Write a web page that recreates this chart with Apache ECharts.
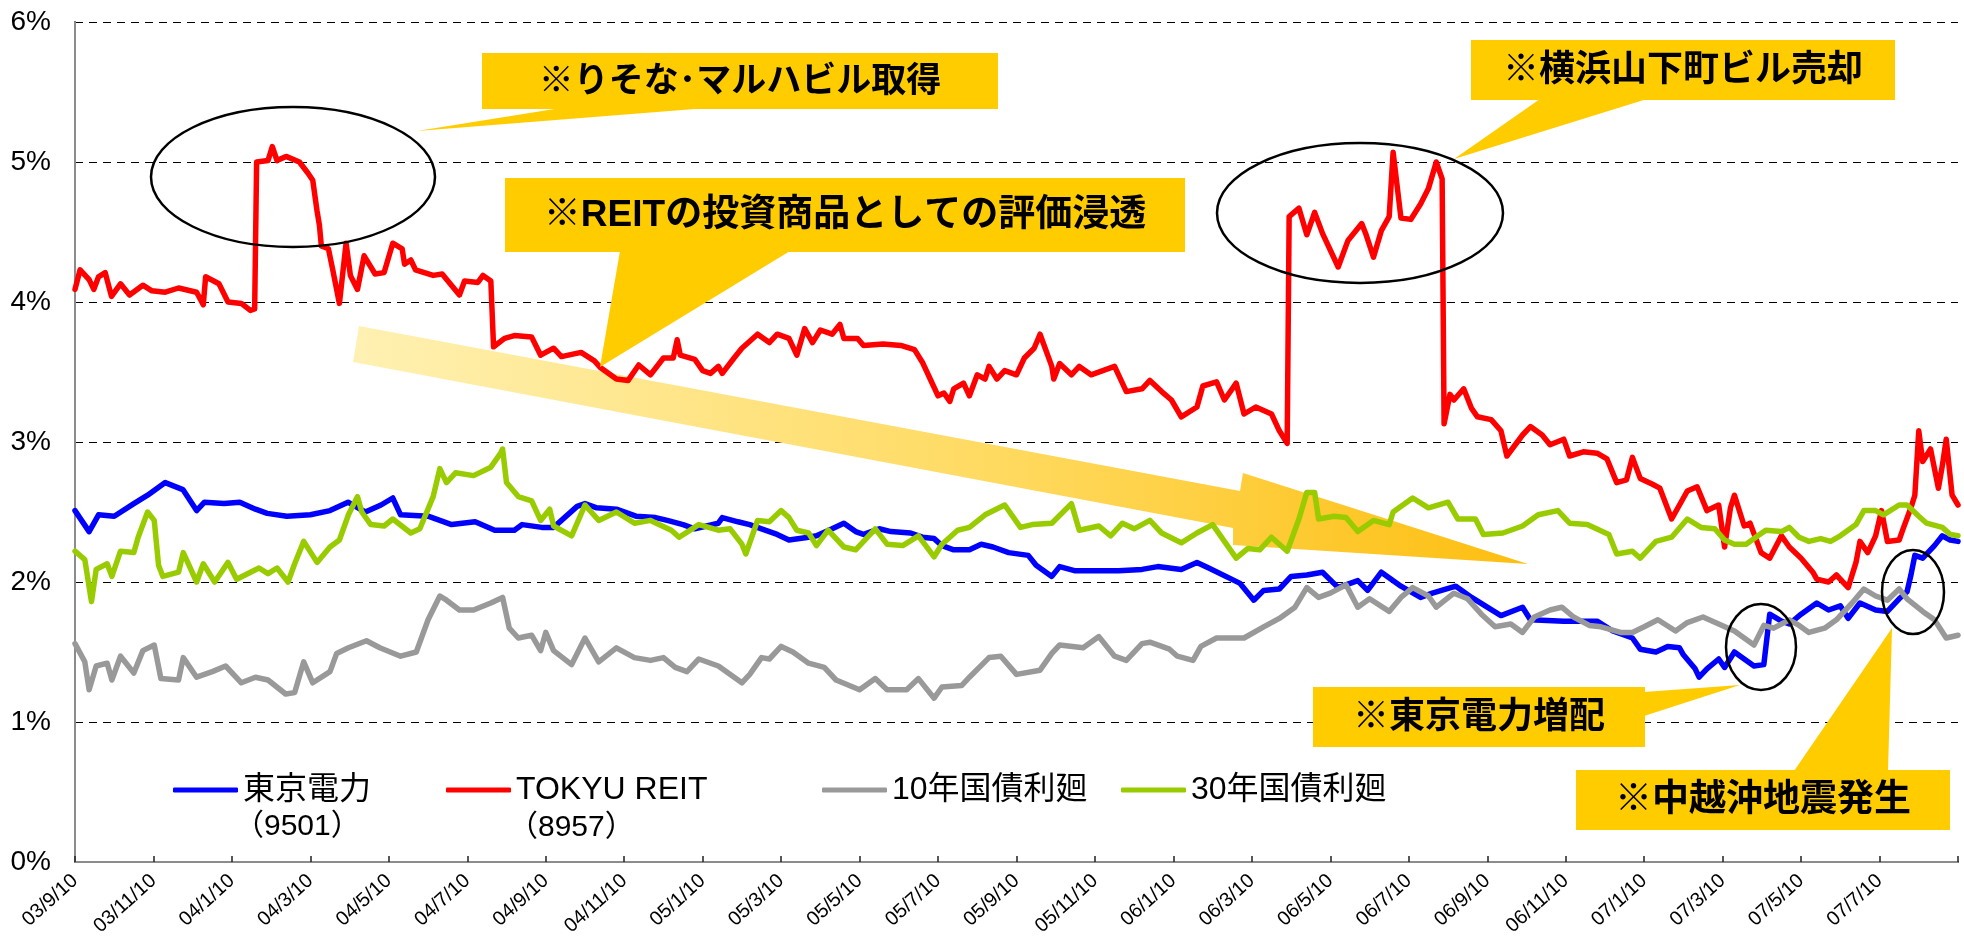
<!DOCTYPE html>
<html>
<head>
<meta charset="utf-8">
<script src="https://cdn.jsdelivr.net/npm/echarts@6/dist/echarts.min.js"></script>
<style>
  html, body { margin: 0; padding: 0; background: #fff; }
  #chart { width: 1964px; height: 949px; }
</style>
</head>
<body>
<div id="chart"></div>
<script>
// x values are months counted from 2003/9/10
const tickLabels = ['03/9/10', '03/11/10', '04/1/10', '04/3/10', '04/5/10', '04/7/10', '04/9/10', '04/11/10',
  '05/1/10', '05/3/10', '05/5/10', '05/7/10', '05/9/10', '05/11/10', '06/1/10', '06/3/10', '06/5/10',
  '06/7/10', '06/9/10', '06/11/10', '07/1/10', '07/3/10', '07/5/10', '07/7/10']

const seriesNames = ['東京電力', 'TOKYU REIT', '10年国債利廻', '30年国債利廻']

// 東京電力 (9501) dividend yield
const tepcoM = [0, 0.36, 0.6, 1, 1.5, 1.85, 2.3, 2.75, 3.1, 3.3, 3.8, 4.2, 4.6, 4.9, 5.4, 6, 6.5, 6.96, 7.4, 7.8, 8.1, 8.3,
  9, 9.6, 10.2, 10.7, 11.2, 11.4, 11.9, 12.2, 12.8, 13, 13.3, 13.8, 14.3, 14.8, 15.1, 15.5, 15.8, 16.4, 16.5, 16.9,
  17.2, 17.5, 17.9, 18.2, 18.7, 18.9, 19.3, 19.6, 19.9, 20.1, 20.5, 20.8, 21.3, 21.6, 21.9, 22.1, 22.4, 22.8, 23.1,
  23.4, 23.8, 24.3, 24.5, 24.9, 25.1, 25.5, 26.1, 26.6, 27.2, 27.6, 27.9, 28.2, 28.6, 28.9, 29.7, 30.05, 30.3, 30.7,
  31, 31.4, 31.8, 32.2, 32.7, 32.95, 33.3, 33.8, 34.3, 34.6, 35.2, 35.6, 36, 36.35, 36.9, 37.1, 37.95, 38.8, 39.2,
  39.7, 39.9, 40.3, 40.6, 40.9, 41, 41.3, 41.4, 41.6, 41.9, 42.05, 42.3, 42.55, 42.8, 43.05, 43.2, 43.5, 43.7, 44,
  44.4, 44.7, 45, 45.2, 45.5, 45.9, 46.2, 46.5, 46.7, 46.8, 46.9, 47.1, 47.4, 47.6, 47.8, 48]
const tepcoV = [2.51, 2.36, 2.48, 2.47, 2.56, 2.62, 2.71, 2.66, 2.51, 2.57, 2.56, 2.57, 2.52, 2.49, 2.47, 2.48, 2.51,
  2.57, 2.5, 2.55, 2.6, 2.48, 2.47, 2.41, 2.43, 2.37, 2.37, 2.41, 2.39, 2.39, 2.54, 2.56, 2.53, 2.52, 2.47, 2.46,
  2.44, 2.41, 2.38, 2.42, 2.46, 2.43, 2.41, 2.38, 2.34, 2.3, 2.32, 2.33, 2.38, 2.42, 2.36, 2.34, 2.38, 2.36, 2.35,
  2.32, 2.31, 2.26, 2.23, 2.23, 2.27, 2.25, 2.21, 2.19, 2.12, 2.04, 2.11, 2.08, 2.08, 2.08, 2.09, 2.11, 2.1, 2.09,
  2.14, 2.1, 1.99, 1.87, 1.94, 1.95, 2.04, 2.05, 2.07, 1.96, 2.01, 1.94, 2.07, 1.97, 1.89, 1.92, 1.97, 1.89, 1.82,
  1.76, 1.82, 1.73, 1.72, 1.72, 1.65, 1.6, 1.52, 1.5, 1.54, 1.53, 1.48, 1.38, 1.32, 1.38, 1.45, 1.39, 1.5, 1.45, 1.4,
  1.41, 1.77, 1.72, 1.7, 1.77, 1.85, 1.8, 1.83, 1.74, 1.85, 1.8, 1.79, 1.88, 1.93, 2.05, 2.19, 2.17, 2.26, 2.33, 2.3, 2.29]

// TOKYU REIT (8957) dividend yield
const reitM = [0, 0.13, 0.36, 0.48, 0.6, 0.77, 0.93, 1.16, 1.39, 1.73, 1.96, 2.3, 2.64, 3.1, 3.27, 3.33, 3.67, 3.9, 4.24,
  4.47, 4.58, 4.63, 4.92, 5.03, 5.15, 5.38, 5.72, 5.94, 6.06, 6.17, 6.23, 6.28, 6.46, 6.57, 6.74, 6.91, 7.02, 7.2,
  7.37, 7.65, 7.88, 8.1, 8.34, 8.4, 8.56, 8.68, 9.13, 9.36, 9.8, 9.93, 10.27, 10.4, 10.6, 10.67, 10.95, 11.2, 11.64,
  11.87, 12.2, 12.4, 12.9, 13.24, 13.4, 13.8, 14.1, 14.37, 14.67, 15, 15.25, 15.35, 15.43, 15.8, 16, 16.2, 16.4,
  16.5, 16.8, 17, 17.4, 17.7, 17.9, 18.2, 18.4, 18.6, 18.8, 19, 19.3, 19.5, 19.6, 19.95, 20.1, 20.6, 21.05, 21.4,
  21.6, 21.8, 22, 22.15, 22.3, 22.4, 22.65, 22.8, 23, 23.2, 23.3, 23.5, 23.7, 24, 24.2, 24.45, 24.6, 24.9, 24.95,
  25.1, 25.4, 25.6, 25.9, 26.2, 26.5, 26.8, 27.2, 27.4, 27.7, 27.95, 28.2, 28.6, 28.75, 29.1, 29.3, 29.6, 29.8,
  30.1, 30.5, 30.7, 30.9, 30.95, 31.2, 31.4, 31.6, 31.8, 32.2, 32.45, 32.8, 32.9, 33.1, 33.3, 33.5, 33.6, 33.8,
  34.05, 34.3, 34.5, 34.7, 34.85, 34.9, 35.05, 35.15, 35.4, 35.6, 35.75, 36.1, 36.35, 36.5, 36.9, 37.1, 37.4, 37.6,
  37.95, 38.1, 38.45, 38.8, 39.05, 39.3, 39.55, 39.7, 39.9, 40.2, 40.4, 40.7, 40.9, 41.1, 41.35, 41.6, 41.9, 42.05,
  42.2, 42.3, 42.55, 42.7, 42.98, 43.2, 43.5, 43.7, 44, 44.3, 44.4, 44.7, 44.9, 45.2, 45.4, 45.5, 45.7, 45.9, 46.05,
  46.2, 46.5, 46.6, 46.8, 46.9, 47, 47.1, 47.3, 47.5, 47.6, 47.7, 47.85, 48]
const reitV = [4.09, 4.23, 4.16, 4.09, 4.18, 4.21, 4.04, 4.13, 4.05, 4.12, 4.08, 4.07, 4.1, 4.07, 3.98, 4.18, 4.13, 4,
  3.99, 3.94, 3.95, 5, 5.01, 5.11, 5.01, 5.04, 5, 4.92, 4.87, 4.65, 4.55, 4.4, 4.38, 4.23, 3.99, 4.42, 4.19, 4.09,
  4.33, 4.2, 4.21, 4.42, 4.38, 4.27, 4.3, 4.23, 4.19, 4.2, 4.05, 4.15, 4.14, 4.19, 4.15, 3.68, 3.74, 3.76, 3.75, 3.62,
  3.67, 3.61, 3.64, 3.58, 3.53, 3.45, 3.44, 3.55, 3.48, 3.6, 3.6, 3.73, 3.62, 3.59, 3.51, 3.49, 3.54, 3.49, 3.6, 3.67,
  3.77, 3.71, 3.77, 3.74, 3.62, 3.81, 3.71, 3.8, 3.77, 3.84, 3.74, 3.74, 3.69, 3.7, 3.69, 3.66, 3.57, 3.45, 3.33,
  3.35, 3.29, 3.38, 3.42, 3.33, 3.48, 3.45, 3.54, 3.45, 3.51, 3.48, 3.6, 3.67, 3.77, 3.54, 3.45, 3.56, 3.48, 3.54,
  3.48, 3.51, 3.54, 3.36, 3.38, 3.44, 3.36, 3.3, 3.18, 3.25, 3.4, 3.43, 3.3, 3.42, 3.2, 3.25, 3.2, 3.08, 2.99, 4.61,
  4.67, 4.48, 4.64, 4.49, 4.25, 4.44, 4.56, 4.49, 4.32, 4.51, 4.61, 5.07, 4.6, 4.59, 4.7, 4.81, 5, 4.88, 3.13, 3.34,
  3.3, 3.38, 3.24, 3.18, 3.16, 3.08, 2.9, 3.05, 3.11, 3.05, 2.98, 3.02, 2.9, 2.93, 2.92, 2.88, 2.71, 2.73, 2.89, 2.74,
  2.7, 2.67, 2.45, 2.55, 2.65, 2.68, 2.51, 2.55, 2.25, 2.53, 2.62, 2.4, 2.42, 2.21, 2.17, 2.33, 2.25, 2.17, 2.07,
  2.02, 2, 2.05, 1.96, 2.14, 2.29, 2.21, 2.33, 2.51, 2.29, 2.3, 2.38, 2.53, 2.62, 3.08, 2.86, 2.95, 2.67, 2.83, 3.02,
  2.62, 2.55]

// 10年国債利廻
const jgb10M = [0, 0.25, 0.36, 0.54, 0.82, 0.94, 1.16, 1.5, 1.73, 2.02, 2.19, 2.64, 2.76, 3.1, 3.5, 3.84, 4.24, 4.6,
  4.92, 5.37, 5.6, 5.83, 6.06, 6.5, 6.67, 6.97, 7.43, 7.77, 8.3, 8.7, 9, 9.3, 9.47, 9.8, 10.16, 10.6, 10.9, 11.07,
  11.3, 11.64, 11.87, 12, 12.2, 12.66, 13, 13.35, 13.8, 14.26, 14.67, 15, 15.3, 15.6, 15.9, 16.4, 17, 17.2, 17.5,
  17.7, 18, 18.3, 18.7, 19.1, 19.4, 20, 20.4, 20.7, 21.2, 21.5, 21.9, 22.1, 22.6, 22.8, 23.3, 23.6, 24, 24.6, 24.9,
  25.1, 25.7, 26.1, 26.5, 26.8, 27.2, 27.4, 27.9, 28.1, 28.5, 28.7, 29.1, 29.8, 30.3, 30.7, 31.1, 31.4, 31.7, 32,
  32.4, 32.7, 33, 33.5, 33.8, 34.1, 34.5, 34.7, 35.15, 35.5, 35.85, 36.2, 36.6, 36.9, 37.2, 37.6, 37.9, 38.2, 38.6,
  38.9, 39.4, 39.7, 40, 40.35, 40.8, 41.1, 41.5, 41.9, 42.3, 42.55, 42.8, 43.05, 43.3, 43.7, 43.95, 44.2, 44.6,
  44.9, 45.3, 45.6, 45.9, 46.2, 46.5, 46.7, 47.1, 47.4, 47.7, 48]
const jgb10V = [1.56, 1.43, 1.23, 1.4, 1.42, 1.3, 1.47, 1.35, 1.51, 1.55, 1.31, 1.3, 1.46, 1.32, 1.36, 1.4, 1.28, 1.32,
  1.3, 1.2, 1.21, 1.43, 1.28, 1.36, 1.49, 1.53, 1.58, 1.53, 1.47, 1.5, 1.73, 1.9, 1.87, 1.8, 1.8, 1.85, 1.89, 1.67,
  1.6, 1.62, 1.51, 1.64, 1.51, 1.41, 1.6, 1.43, 1.53, 1.46, 1.44, 1.46, 1.39, 1.36, 1.45, 1.4, 1.28, 1.34, 1.46,
  1.45, 1.54, 1.5, 1.42, 1.39, 1.3, 1.23, 1.31, 1.23, 1.23, 1.31, 1.17, 1.25, 1.26, 1.32, 1.46, 1.47, 1.34, 1.37,
  1.49, 1.55, 1.53, 1.61, 1.47, 1.44, 1.56, 1.57, 1.52, 1.47, 1.44, 1.54, 1.6, 1.6, 1.68, 1.74, 1.82, 1.96, 1.89,
  1.92, 1.98, 1.82, 1.88, 1.79, 1.89, 1.96, 1.9, 1.82, 1.92, 1.88, 1.77, 1.68, 1.7, 1.64, 1.75, 1.8, 1.82, 1.75,
  1.69, 1.68, 1.64, 1.64, 1.68, 1.73, 1.65, 1.71, 1.75, 1.7, 1.65, 1.6, 1.55, 1.69, 1.67, 1.73, 1.69, 1.64, 1.67,
  1.73, 1.85, 1.95, 1.9, 1.87, 1.95, 1.88, 1.79, 1.73, 1.6, 1.62]

// 30年国債利廻
const jgb30M = [0, 0.25, 0.42, 0.54, 0.82, 0.94, 1.16, 1.5, 1.61, 1.85, 2.02, 2.13, 2.24, 2.64, 2.76, 3.1, 3.27, 3.56,
  3.9, 4.12, 4.69, 4.92, 5.15, 5.43, 5.6, 5.83, 6.17, 6.5, 6.74, 6.97, 7.2, 7.31, 7.54, 7.88, 8.1, 8.56, 8.79, 9.13,
  9.3, 9.47, 9.7, 10.16, 10.6, 10.85, 10.9, 11, 11.3, 11.64, 11.87, 12.1, 12.2, 12.66, 13, 13.35, 13.8, 14.26, 14.67,
  15.2, 15.4, 15.9, 16.4, 16.7, 17, 17.1, 17.4, 17.7, 18, 18.2, 18.4, 18.7, 18.9, 19.2, 19.6, 19.9, 20.4, 20.7, 21.1,
  21.5, 21.9, 22.1, 22.5, 22.8, 23.2, 23.7, 24.1, 24.4, 24.9, 25.4, 25.6, 26.1, 26.4, 26.7, 27, 27.4, 27.7, 28.2,
  28.6, 29, 29.6, 29.9, 30.2, 30.5, 30.9, 31.2, 31.4, 31.6, 31.7, 32.1, 32.4, 32.7, 33.1, 33.5, 33.6, 34.1, 34.5,
  35, 35.25, 35.7, 35.9, 36.4, 36.9, 37.3, 37.8, 38.1, 38.55, 39.1, 39.3, 39.7, 39.9, 40.3, 40.7, 41.1, 41.45, 41.8,
  42.05, 42.3, 42.6, 42.9, 43.1, 43.5, 43.7, 43.95, 44.2, 44.5, 44.75, 45, 45.4, 45.6, 45.9, 46.1, 46.5, 46.7, 47,
  47.2, 47.6, 47.8, 48]
const jgb30V = [2.22, 2.16, 1.86, 2.09, 2.13, 2.04, 2.22, 2.21, 2.32, 2.5, 2.44, 2.12, 2.04, 2.07, 2.21, 2, 2.13, 2,
  2.14, 2.02, 2.1, 2.06, 2.1, 2, 2.13, 2.29, 2.14, 2.25, 2.3, 2.48, 2.61, 2.5, 2.41, 2.4, 2.45, 2.35, 2.38, 2.61,
  2.81, 2.71, 2.78, 2.76, 2.82, 2.92, 2.95, 2.71, 2.61, 2.58, 2.44, 2.52, 2.4, 2.33, 2.55, 2.44, 2.5, 2.42, 2.44,
  2.37, 2.32, 2.41, 2.37, 2.38, 2.27, 2.2, 2.44, 2.43, 2.51, 2.46, 2.37, 2.35, 2.26, 2.37, 2.25, 2.23, 2.38, 2.27,
  2.26, 2.33, 2.18, 2.27, 2.37, 2.39, 2.48, 2.55, 2.39, 2.41, 2.42, 2.56, 2.37, 2.4, 2.33, 2.42, 2.38, 2.44, 2.35,
  2.28, 2.35, 2.41, 2.17, 2.24, 2.23, 2.32, 2.22, 2.45, 2.64, 2.64, 2.45, 2.47, 2.46, 2.36, 2.44, 2.41, 2.5, 2.6,
  2.53, 2.57, 2.45, 2.45, 2.34, 2.35, 2.4, 2.48, 2.51, 2.42, 2.41, 2.34, 2.2, 2.22, 2.17, 2.29, 2.32, 2.45, 2.39,
  2.38, 2.3, 2.27, 2.27, 2.33, 2.37, 2.36, 2.39, 2.32, 2.29, 2.31, 2.29, 2.33, 2.41, 2.51, 2.51, 2.48, 2.55, 2.55,
  2.47, 2.42, 2.39, 2.34, 2.33]

const colors = ['#0000FF', '#FF0000', '#999999', '#99CC00']

const latin = '"Liberation Sans", Arial, "Noto Sans CJK JP", sans-serif'
const cjk = '"Liberation Sans", "Noto Sans CJK JP", sans-serif'
const calloutFill = '#FFCC00'

const pairs = (m, v) => m.map((x, i) => [x, v[i]])

function lineSeries(name, m, v, color) {
  return {
    name: name,
    type: 'line',
    data: pairs(m, v),
    showSymbol: false,
    symbol: 'none',
    animation: false,
    lineStyle: { color: color, width: 5.5, join: 'round', cap: 'round' },
    itemStyle: { color: color },
    emphasis: { disabled: true },
    z: 3
  }
}

function callout(box, tail, text, size) {
  return {
    type: 'group',
    z: 20,
    children: [
      { type: 'polygon', z: 20, shape: { points: tail }, style: { fill: calloutFill } },
      { type: 'rect', z: 20, shape: { x: box[0], y: box[1], width: box[2], height: box[3] }, style: { fill: calloutFill } },
      {
        type: 'text', z: 21,
        style: {
          text: text, x: box[0] + box[2] / 2, y: box[1] + box[3] / 2 + 1,
          align: 'center', verticalAlign: 'middle',
          font: 'bold ' + size + 'px ' + cjk, fill: '#000'
        }
      }
    ]
  }
}

function ring(cx, cy, rx, ry) {
  return { type: 'ellipse', z: 15, shape: { cx: cx, cy: cy, rx: rx, ry: ry }, style: { fill: 'none', stroke: '#000', lineWidth: 2.5 } }
}

function legendItem(name, left) {
  return {
    data: [name], left: left, top: 772, padding: 0, itemGap: 0,
    icon: 'roundRect', itemWidth: 65, itemHeight: 5, selectedMode: false,
    textStyle: { fontSize: 32, fontFamily: cjk, color: '#000', lineHeight: 36 }
  }
}

const chart = echarts.init(document.getElementById('chart'))

chart.setOption({
  animation: false,
  color: colors,
  grid: { left: 75, right: 6, top: 22, bottom: 87 },
  legend: [
    legendItem(seriesNames[0], 173),
    legendItem(seriesNames[1], 446),
    legendItem(seriesNames[2], 822),
    legendItem(seriesNames[3], 1121)
  ],
  xAxis: [{
    type: 'value', min: 0, max: 48, interval: 2,
    axisLine: { lineStyle: { color: '#222', width: 2 } },
    axisTick: { inside: true, length: 6, lineStyle: { color: '#222', width: 1.5 } },
    splitLine: { show: false },
    axisLabel: {
      rotate: 42, margin: 16, fontSize: 20, fontFamily: latin, color: '#000',
      formatter: (v) => tickLabels[Math.round(v / 2)] || ''
    }
  }, {
    type: 'value', min: 0, max: 48, position: 'top',
    axisLine: { lineStyle: { color: '#8c8c8c', width: 2 } },
    axisTick: { show: false }, axisLabel: { show: false }, splitLine: { show: false }
  }],
  yAxis: [{
    type: 'value', min: 0, max: 6, interval: 1,
    axisLine: { show: true, lineStyle: { color: '#000', width: 2 } },
    axisTick: { show: false },
    axisLabel: { margin: 24, fontSize: 28, fontFamily: latin, color: '#000', formatter: '{value}%' },
    splitLine: { lineStyle: { color: '#000', type: [8, 6], width: 1.2 } }
  }, {
    type: 'value', min: 0, max: 6, position: 'right',
    axisLine: { show: true, lineStyle: { color: '#8c8c8c', width: 2 } },
    axisTick: { show: false }, axisLabel: { show: false }, splitLine: { show: false }
  }],
  series: [
    lineSeries(seriesNames[0], tepcoM, tepcoV, colors[0]),
    lineSeries(seriesNames[1], reitM, reitV, colors[1]),
    lineSeries(seriesNames[2], jgb10M, jgb10V, colors[2]),
    lineSeries(seriesNames[3], jgb30M, jgb30V, colors[3])
  ],
  graphic: [
    // big trend arrow behind the lines
    {
      type: 'polygon', z: 1,
      shape: { points: [[359, 326], [1240, 491], [1243, 473], [1528, 564], [1233, 545], [1233, 528], [353, 362]] },
      style: {
        fill: new echarts.graphic.LinearGradient(0, 0, 1, 0, [
          { offset: 0, color: '#FFF1B3' },
          { offset: 0.55, color: '#FFDA60' },
          { offset: 1, color: '#FDBE10' }
        ])
      }
    },
    ring(293, 177, 142, 70),
    ring(1360, 213, 143, 70),
    ring(1761, 647, 35, 43),
    ring(1913, 592, 31, 42),
    callout([482, 53, 516, 56], [[567, 107], [720, 107], [417, 131]], '※りそな･マルハビル取得', 35),
    callout([505, 178, 680, 74], [[620, 251], [790, 251], [600, 367]], '※REITの投資商品としての評価浸透', 37),
    callout([1471, 40, 424, 60], [[1540, 99], [1647, 99], [1454, 159]], '※横浜山下町ビル売却', 36),
    callout([1313, 687, 332, 60], [[1644, 692], [1644, 716], [1740, 685]], '※東京電力増配', 36),
    callout([1576, 770, 374, 60], [[1794, 771], [1888, 771], [1892, 628]], '※中越沖地震発生', 37),
    { type: 'text', z: 5, style: { text: '（9501）', x: 234, y: 827, verticalAlign: 'middle', font: '30px ' + cjk, fill: '#000' } },
    { type: 'text', z: 5, style: { text: '（8957）', x: 508, y: 828, verticalAlign: 'middle', font: '30px ' + cjk, fill: '#000' } }
  ]
})
</script>
</body>
</html>
